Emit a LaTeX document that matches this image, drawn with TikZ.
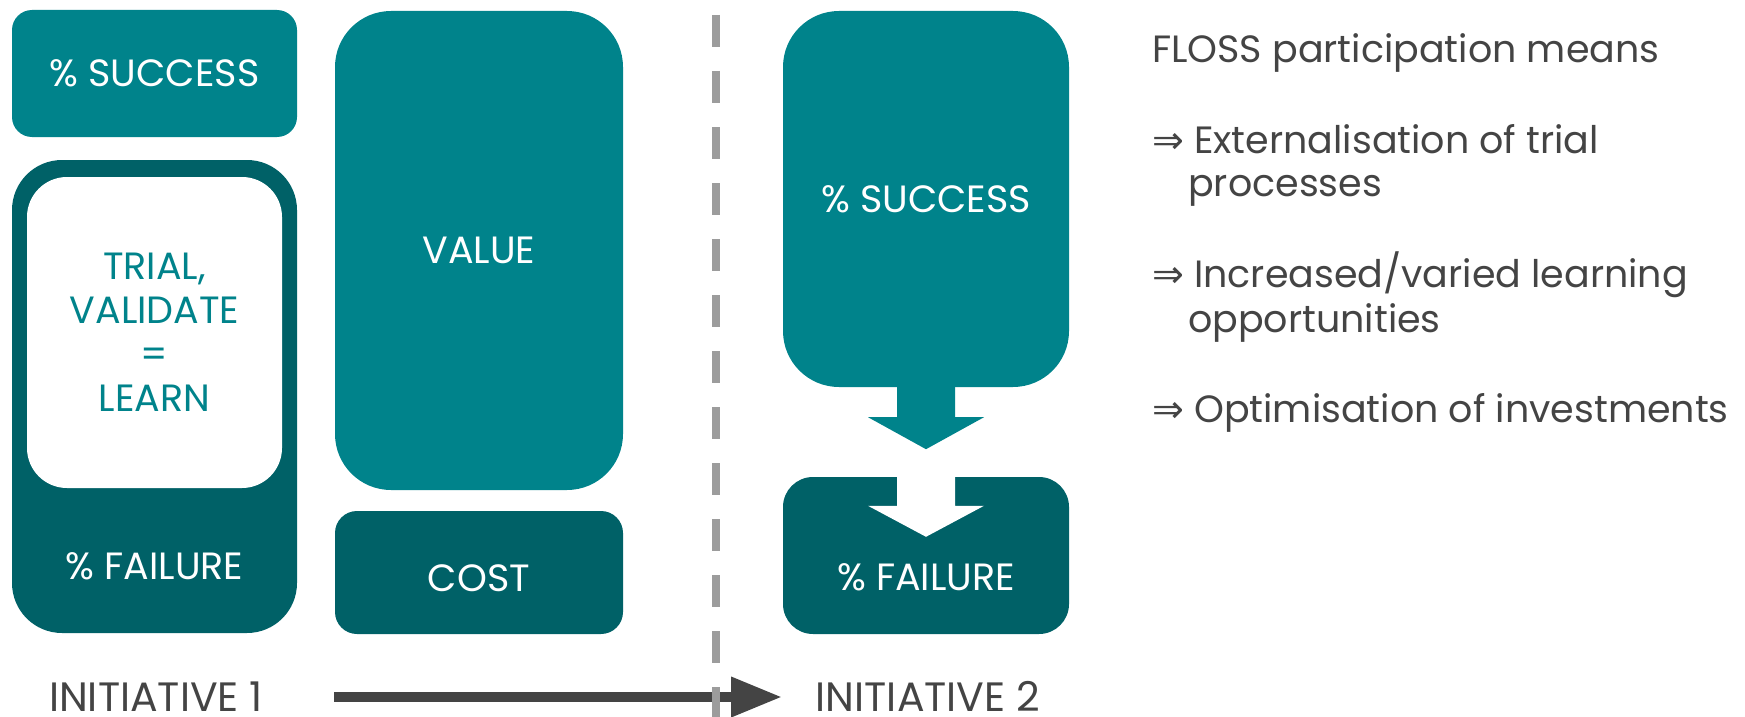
\documentclass[tikz,border=0pt]{standalone}
\usepackage{fontspec}
\setmainfont{Poppins}
\newfontfamily\symfont{DejaVu Sans}
\usetikzlibrary{arrows.meta,calc}
\definecolor{teal1}{HTML}{00838B}
\definecolor{teal2}{HTML}{006167}
\definecolor{txtgray}{HTML}{444444}
\definecolor{dashgray}{HTML}{9C9C9C}
\begin{document}
\begin{tikzpicture}[x=1pt,y=-1pt,
  box/.style={rectangle,inner sep=0pt,text=white,font=\fontsize{38}{44}\selectfont},
  bodytext/.style={anchor=base west,inner sep=0pt,text=txtgray,font=\fontsize{38}{44}\selectfont},
  inilabel/.style={anchor=base,inner sep=0pt,text=txtgray,font=\fontsize{41}{44}\selectfont}]
\useasboundingbox (0,0) rectangle (1745,717);
% left column
\node[box,fill=teal1,rounded corners=20pt,minimum width=285pt,minimum height=127pt] (s1) at (154.5,73.5) {\% SUCCESS};
\node[box,fill=teal2,rounded corners=50pt,minimum width=285pt,minimum height=473pt] (f1) at (154.5,396.5) {};
\node[box,fill=white,rounded corners=40pt,minimum width=255pt,minimum height=311pt,text=teal1,align=center] (learn) at (154.5,332.5) {TRIAL,\\VALIDATE\\=\\LEARN};
\node[box] (f1t) at (154.5,566) {\% FAILURE};
% middle column
\node[box,fill=teal1,rounded corners=56pt,minimum width=288pt,minimum height=479pt] (value) at (479,250.5) {VALUE};
\node[box,fill=teal2,rounded corners=22pt,minimum width=288pt,minimum height=123pt] (cost) at (479,572.5) {};
\node[box] (costt) at (479,578) {COST};
% right column
\node[box,fill=teal1,rounded corners=56pt,minimum width=286pt,minimum height=376pt] (s2) at (926,199) {\% SUCCESS};
\node[box,fill=teal2,rounded corners=30pt,minimum width=286pt,minimum height=157pt] (f2) at (926,555.5) {};
\node[box] (f2t) at (926,577) {\% FAILURE};
% block arrows
\fill[teal1] ($(s2.south)+(-29,-2)$) -- ++(0,32) -- ++(-29,0) -- ($(s2.south)+(0,62)$) -- ++(58,-32) -- ++(-29,0) -- ($(s2.south)+(29,-2)$) -- cycle;
\fill[white] ($(f2.north)+(-29,-2)$) -- ++(0,31) -- ++(-29,0) -- ($(f2.north)+(0,60)$) -- ++(58,-31) -- ++(-29,0) -- ($(f2.north)+(29,-2)$) -- cycle;
% bottom
\node[inilabel] (i1) at (156,711) {INITIATIVE 1};
\node[inilabel] (i2) at (928,711) {INITIATIVE 2};
\coordinate (a1) at (334,697);
\coordinate (a2) at (782,697);
\draw[txtgray,line width=10pt,-{Triangle[length=51pt,width=38pt]}] (a1) -- (a2);
% dashed divider
\coordinate (d1) at (716,15);
\coordinate (d2) at (716,717);
\draw[dashgray,line width=8pt,dash pattern=on 32pt off 24pt] (d1) -- (d2);
% right text
\node[bodytext] (t0) at (1152,63) {FLOSS participation means};
\node[bodytext] (t1) at (1152,153) {{\symfont ⇒} Externalisation of trial};
\node[bodytext] (t1b) at (1188,196) {processes};
\node[bodytext] (t2) at (1152,287) {{\symfont ⇒} Increased/varied learning};
\node[bodytext] (t2b) at (1188,332) {opportunities};
\node[bodytext] (t3) at (1152,422) {{\symfont ⇒} Optimisation of investments};
\end{tikzpicture}
\end{document}
